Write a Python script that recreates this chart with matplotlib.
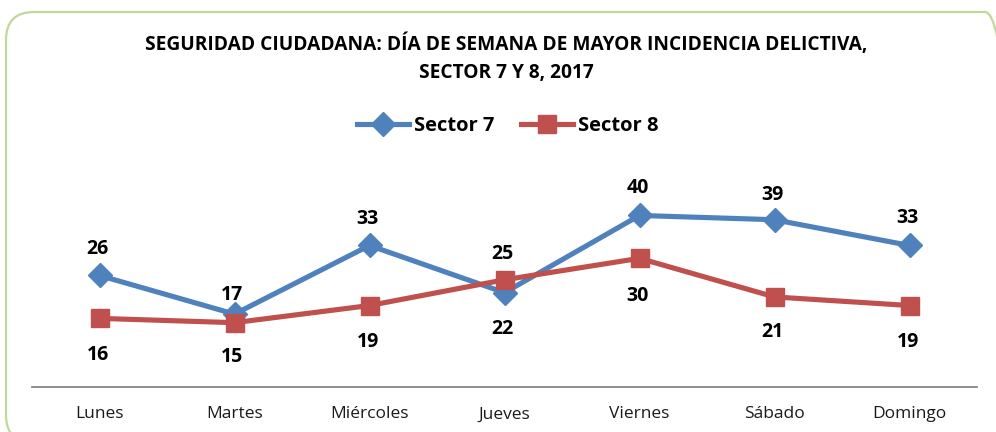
import matplotlib
matplotlib.use("Agg")
import matplotlib.pyplot as plt
from matplotlib.patches import FancyBboxPatch
from matplotlib.transforms import IdentityTransform
from matplotlib.lines import Line2D

days = ["Lunes", "Martes", "Miércoles", "Jueves", "Viernes", "Sábado", "Domingo"]
sector7 = [26, 17, 33, 22, 40, 39, 33]
sector8 = [16, 15, 19, 25, 30, 21, 19]

title1 = "SEGURIDAD CIUDADANA: DÍA DE SEMANA DE MAYOR INCIDENCIA DELICTIVA,"
title2 = "SECTOR 7 Y 8, 2017"

# label offsets in pixels (negative = above the point)
off7 = [-26, -19, -26, 36, -27, -25, -27]
off8 = [37, 34, 36, -26, 38, 35, 36]

BLUE = "#4F81BD"
RED = "#C0504D"
FONT = "Open Sans"

plt.rcParams['font.family'] = [FONT, 'DejaVu Sans']

W, H = 996, 432
fig = plt.figure(figsize=(W / 100, H / 100), dpi=100)

# rounded border
border = FancyBboxPatch((6 + 28, -11 + 28), (1013 - 6) - 56, (420 + 11) - 56,
                        boxstyle="round,pad=28,rounding_size=28",
                        transform=IdentityTransform(), facecolor="none",
                        edgecolor="#C3D69B", linewidth=1.6, zorder=-5)
fig.patches.append(border)

LW = 3.7
ax = fig.add_axes([32 / W, (H - 387) / H, 945 / W, (387 - 194) / H])
ax.set_facecolor("none")
x = list(range(len(days)))
ax.plot(x, sector7, color=BLUE, lw=LW, marker="D", ms=12.5, label="Sector 7", zorder=3)
ax.plot(x, sector8, color=RED, lw=LW, marker="s", ms=13, label="Sector 8", zorder=3)
ax.set_xlim(-0.5, len(days) - 0.5)
ax.set_ylim(0, 45)

for s in ["top", "right", "left"]:
    ax.spines[s].set_visible(False)
ax.spines["bottom"].set_color("#868686")
ax.spines["bottom"].set_linewidth(1.3)
ax.set_yticks([])
ax.set_xticks(x)
ax.set_xticklabels(days, fontsize=12.5, color="#1a1a1a")
ax.tick_params(axis="x", length=0, pad=14)

px2pt = 0.72
for xi, v, o in zip(x, sector7, off7):
    ax.annotate(str(v), (xi, v), xytext=(-2 * px2pt, -o * px2pt), textcoords="offset points",
                ha="center", va="center", fontsize=14, fontweight="bold", color="black")
for xi, v, o in zip(x, sector8, off8):
    ax.annotate(str(v), (xi, v), xytext=(-2 * px2pt, -o * px2pt), textcoords="offset points",
                ha="center", va="center", fontsize=14, fontweight="bold", color="black")

fig.text(506 / W, 1 - 44 / H, title1, ha="center", va="center", fontsize=13.8, fontweight="bold")
fig.text(506 / W, 1 - 73 / H, title2, ha="center", va="center", fontsize=13.8, fontweight="bold")

handles = [Line2D([], [], color=BLUE, lw=LW, marker="D", ms=12.5),
           Line2D([], [], color=RED, lw=LW, marker="s", ms=13)]
leg = fig.legend(handles, ["Sector 7", "Sector 8"], loc="center", ncol=2,
                 bbox_to_anchor=(508 / W, 1 - 126 / H), frameon=False,
                 prop={"family": FONT, "weight": "bold", "size": 14.5},
                 handlelength=2.6, handletextpad=0.25, columnspacing=1.3)

fig.savefig("out.png", dpi=100)
